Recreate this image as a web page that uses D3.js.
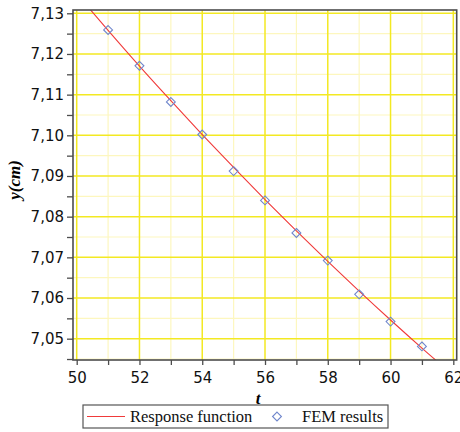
<!DOCTYPE html>
<html>
<head>
<meta charset="utf-8">
<script src="https://cdn.jsdelivr.net/npm/d3@7"></script>
<style>
  html, body { margin: 0; padding: 0; background: #fff; }
  svg { display: block; }
</style>
</head>
<body>
<svg id="chart" width="460" height="432"></svg>
<script>
// FEM results (t, y in cm)
const femT = [51, 52, 53, 54, 55, 56, 57, 58, 59, 60, 61];
const femY = [7.1259, 7.1171, 7.1082, 7.1002, 7.0912, 7.0840, 7.0760, 7.0692, 7.0609, 7.0542, 7.0481];

// Response function, sampled along t
const respT = [50, 51, 52, 53, 54, 55, 56, 57, 58, 59, 60, 61, 62];
const respY = [7.1348, 7.1258, 7.1170, 7.1085, 7.1002, 7.0921, 7.0842, 7.0765, 7.0690, 7.0617, 7.0546, 7.0477, 7.0410];

// Axis ticks
const xMajor = [50, 52, 54, 56, 58, 60, 62];
const xMinor = [51, 53, 55, 57, 59, 61];
const yMajor = [7.05, 7.06, 7.07, 7.08, 7.09, 7.10, 7.11, 7.12, 7.13];
const yMinor = [7.045, 7.055, 7.065, 7.075, 7.085, 7.095, 7.105, 7.115, 7.125];

const legendLabels = ["Response function", "FEM results"];

const svg = d3.select("#chart");
const plot = { left: 73, right: 456.7, top: 10, bottom: 360 };

const x = d3.scaleLinear().domain([49.882, 62.108]).range([plot.left, plot.right]);
const y = d3.scaleLinear().domain([7.04476, 7.13081]).range([plot.bottom, plot.top]);

const fmt = d3.formatLocale({ decimal: ",", thousands: ".", grouping: [3], currency: ["", ""] }).format(".2f");

svg.append("defs").append("clipPath").attr("id", "plotClip")
  .append("rect")
  .attr("x", plot.left).attr("y", plot.top)
  .attr("width", plot.right - plot.left).attr("height", plot.bottom - plot.top);

// Grid: minor first, then major
const grid = svg.append("g").attr("clip-path", "url(#plotClip)");
grid.selectAll(".xminor").data(xMinor).join("line")
  .attr("x1", d => x(d)).attr("x2", d => x(d))
  .attr("y1", plot.top).attr("y2", plot.bottom)
  .attr("stroke", "#fdf7bf").attr("stroke-width", 1.2);
grid.selectAll(".yminor").data(yMinor).join("line")
  .attr("y1", d => y(d)).attr("y2", d => y(d))
  .attr("x1", plot.left).attr("x2", plot.right)
  .attr("stroke", "#fdf7bf").attr("stroke-width", 1.2);
grid.selectAll(".xmajor").data(xMajor).join("line")
  .attr("x1", d => x(d)).attr("x2", d => x(d))
  .attr("y1", plot.top).attr("y2", plot.bottom)
  .attr("stroke", "#f3e922").attr("stroke-width", 1.5);
grid.selectAll(".ymajor").data(yMajor).join("line")
  .attr("y1", d => y(d)).attr("y2", d => y(d))
  .attr("x1", plot.left).attr("x2", plot.right)
  .attr("stroke", "#f3e922").attr("stroke-width", 1.5);

// Response function curve
const respData = respT.map((t, i) => [t, respY[i]]);
svg.append("path")
  .attr("clip-path", "url(#plotClip)")
  .datum(respData)
  .attr("fill", "none")
  .attr("stroke", "#f03a3a")
  .attr("stroke-width", 1.1)
  .attr("d", d3.line().x(d => x(d[0])).y(d => y(d[1])).curve(d3.curveMonotoneX));

// FEM markers
const diamond = d3.symbol().type(d3.symbolDiamond2).size(50);
svg.append("g").selectAll("path")
  .data(femT.map((t, i) => [t, femY[i]]))
  .join("path")
  .attr("transform", d => `translate(${x(d[0])},${y(d[1])})`)
  .attr("d", diamond)
  .attr("fill", "none")
  .attr("stroke", "#6f86cc")
  .attr("stroke-width", 1.1);

// Frame
svg.append("rect")
  .attr("x", plot.left).attr("y", plot.top)
  .attr("width", plot.right - plot.left).attr("height", plot.bottom - plot.top)
  .attr("fill", "none").attr("stroke", "#4d4d4d").attr("stroke-width", 1.6);

// Axes
const tickFont = "DejaVu Sans, Verdana, sans-serif";
const yAxis = svg.append("g").attr("transform", `translate(${plot.left},0)`)
  .call(d3.axisLeft(y).tickValues(yMajor).tickFormat(fmt).tickSize(6).tickPadding(3));
svg.append("g").attr("transform", `translate(${plot.left},0)`)
  .call(d3.axisLeft(y).tickValues(yMinor).tickFormat("").tickSize(6))
  .call(g => g.select(".domain").remove());
const xAxis = svg.append("g").attr("transform", `translate(0,${plot.bottom})`)
  .call(d3.axisBottom(x).tickValues(xMajor).tickSize(5).tickPadding(7));
svg.append("g").attr("transform", `translate(0,${plot.bottom})`)
  .call(d3.axisBottom(x).tickValues(xMinor).tickFormat("").tickSize(5))
  .call(g => g.select(".domain").remove());

svg.selectAll(".domain").remove();
svg.selectAll(".tick line").attr("stroke", "#4d4d4d").attr("stroke-width", 1.3);
svg.selectAll(".tick text").attr("font-family", tickFont).attr("font-size", 15).attr("fill", "#111");

// Axis titles
svg.append("text")
  .attr("x", 258).attr("y", 404)
  .attr("text-anchor", "middle")
  .attr("font-family", "Liberation Serif, Times New Roman, serif")
  .attr("font-style", "italic").attr("font-weight", "bold")
  .attr("font-size", 17)
  .text("t");
svg.append("text")
  .attr("transform", "translate(20,180) rotate(-90)")
  .attr("text-anchor", "middle")
  .attr("font-family", "Liberation Serif, Times New Roman, serif")
  .attr("font-style", "italic").attr("font-weight", "bold")
  .attr("font-size", 17)
  .text("y(cm)");

// Legend
const lg = svg.append("g");
lg.append("rect")
  .attr("x", 83).attr("y", 405).attr("width", 305).attr("height", 23)
  .attr("fill", "#fff").attr("stroke", "#555").attr("stroke-width", 1.2);
lg.append("line")
  .attr("x1", 87).attr("x2", 125).attr("y1", 416.5).attr("y2", 416.5)
  .attr("stroke", "#f03a3a").attr("stroke-width", 1.1);
lg.append("text")
  .attr("x", 130).attr("y", 422)
  .attr("font-family", "Liberation Serif, Times New Roman, serif")
  .attr("font-size", 16.5).attr("fill", "#111")
  .text(legendLabels[0]);
lg.append("path")
  .attr("transform", "translate(277,416.5)")
  .attr("d", diamond)
  .attr("fill", "none").attr("stroke", "#6f86cc").attr("stroke-width", 1.1);
lg.append("text")
  .attr("x", 302).attr("y", 422)
  .attr("font-family", "Liberation Serif, Times New Roman, serif")
  .attr("font-size", 16.5).attr("fill", "#111")
  .text(legendLabels[1]);
</script>
</body>
</html>
